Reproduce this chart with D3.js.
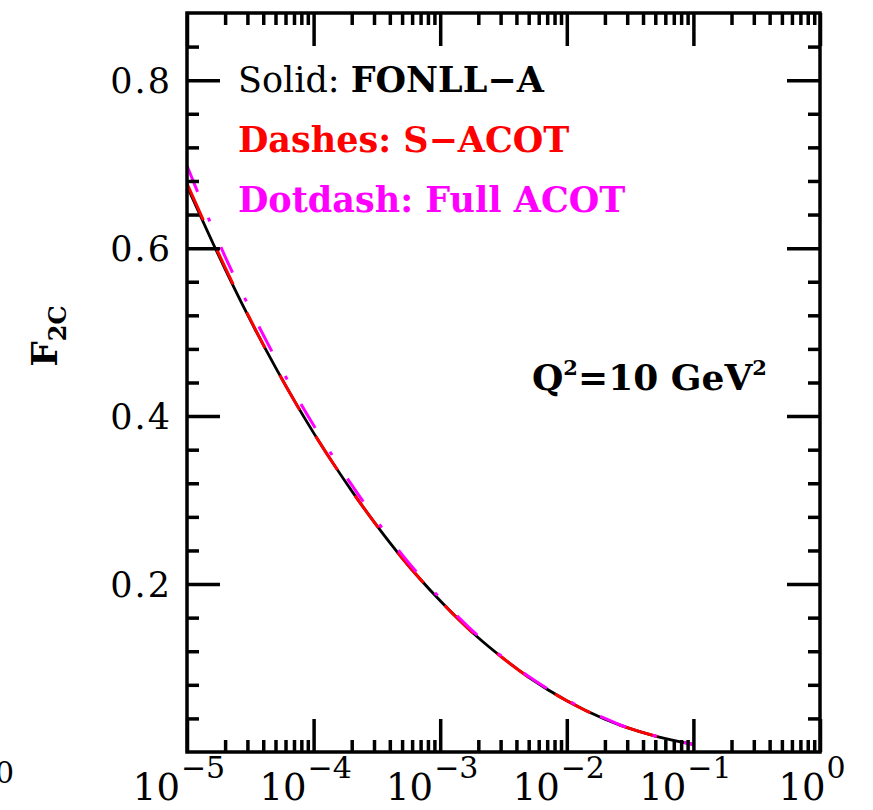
<!DOCTYPE html>
<meta charset="utf-8">
<style>
body { margin: 0; background: #fff; }
svg { display: block; }
text { font-family: "DejaVu Serif", serif; }
.tick line { stroke: #000; stroke-width: 3.5; }
</style>
<body>
<script src="https://cdn.jsdelivr.net/npm/d3@7"></script>
<script>

// x values (log axis) and F2c
var xs = [1e-5, 2e-5, 3e-5, 5e-5, 1e-4, 2e-4, 3e-4, 5e-4, 1e-3, 2e-3, 3e-3, 5e-3, 1e-2, 2e-2, 3e-2, 5e-2, 1e-1];
var fonll = [0.674, 0.575, 0.521, 0.458, 0.380, 0.311, 0.274, 0.231, 0.180, 0.136, 0.114, 0.089, 0.061, 0.039, 0.029, 0.019, 0.009];
var sacotX = [1e-5, 2e-5, 3e-5, 5e-5, 1e-4, 2e-4, 3e-4, 5e-4, 1e-3, 2e-3, 3e-3, 5e-3, 1e-2, 2e-2, 3e-2, 5e-2, 8e-2];
var sacot = [0.677, 0.577, 0.522, 0.458, 0.380, 0.311, 0.274, 0.231, 0.180, 0.136, 0.114, 0.089, 0.061, 0.039, 0.029, 0.019, 0.012];
var fullacot = [0.698, 0.590, 0.534, 0.469, 0.389, 0.318, 0.280, 0.235, 0.183, 0.138, 0.115, 0.090, 0.062, 0.040, 0.029, 0.019, 0.009];

var xMajor = [1e-5, 1e-4, 1e-3, 1e-2, 1e-1, 1];
var xExp = ["\u22125", "\u22124", "\u22123", "\u22122", "\u22121", "0"];
var yMajor = [0.2, 0.4, 0.6, 0.8];
var yLabels = ["0.2", "0.4", "0.6", "0.8"];

var W = 873, H = 810;
var m = {left: 187, top: 13, right: 53, bottom: 58};
var w = W - m.left - m.right, h = H - m.top - m.bottom;

var x = d3.scaleLog().domain([1e-5, 1]).range([0, w]);
var y = d3.scaleLinear().domain([0, 0.88]).range([h, 0]);

var xMinor = [];
xMajor.slice(0, -1).forEach(function(d) {
  for (var k = 2; k <= 9; k++) xMinor.push(d * k);
});
var yMinor = d3.range(0.04, 0.88, 0.04).filter(function(v) {
  return yMajor.every(function(t) { return Math.abs(t - v) > 1e-6; });
});

var svg = d3.select("body").append("svg")
    .attr("width", W)
    .attr("height", H);

// cut-off label from the neighbouring panel
svg.append("text")
    .attr("x", -5).attr("y", 783)
    .attr("font-size", 30)
    .text("0");

var g = svg.append("g")
    .attr("transform", "translate(" + m.left + "," + m.top + ")");

g.append("clipPath").attr("id", "clip")
  .append("rect").attr("width", w).attr("height", h);

// curves
var line = d3.line()
    .x(function(d) { return x(d[0]); })
    .y(function(d) { return y(d[1]); })
    .curve(d3.curveMonotoneX);

var plot = g.append("g").attr("clip-path", "url(#clip)");

plot.append("path")
    .attr("d", line(d3.zip(xs, fonll)))
    .attr("fill", "none").attr("stroke", "#000").attr("stroke-width", 2.8);

plot.append("path")
    .attr("d", line(d3.zip(sacotX, sacot)))
    .attr("fill", "none").attr("stroke", "#ff0000").attr("stroke-width", 3)
    .attr("stroke-dasharray", "40,31");

plot.append("path")
    .attr("d", line(d3.zip(xs, fullacot)))
    .attr("fill", "none").attr("stroke", "#ff00ff").attr("stroke-width", 3)
    .attr("stroke-dasharray", "28,28,4,28");

// ticks on all four sides, pointing inward
function ticks(axis, vals, size, tr) {
  var a = g.append("g").attr("transform", tr)
      .call(axis.tickValues(vals).tickSize(-size).tickFormat(""));
  a.select(".domain").remove();
}
ticks(d3.axisBottom(x), xMajor, 33, "translate(0," + h + ")");
ticks(d3.axisBottom(x), xMinor, 12, "translate(0," + h + ")");
ticks(d3.axisTop(x), xMajor, 33, null);
ticks(d3.axisTop(x), xMinor, 12, null);
ticks(d3.axisLeft(y), yMajor, 33, null);
ticks(d3.axisLeft(y), yMinor, 12, null);
ticks(d3.axisRight(y), yMajor, 33, "translate(" + w + ",0)");
ticks(d3.axisRight(y), yMinor, 12, "translate(" + w + ",0)");

g.append("rect")
    .attr("width", w).attr("height", h)
    .attr("fill", "none").attr("stroke", "#000").attr("stroke-width", 3.5);

// y tick labels
g.selectAll("text.ylab")
    .data(yMajor)
  .enter().append("text")
    .attr("class", "ylab")
    .attr("x", -15)
    .attr("y", function(d) { return y(d); })
    .attr("dy", "0.36em")
    .attr("text-anchor", "end")
    .attr("font-size", 35)
    .attr("letter-spacing", 2)
    .text(function(d, i) { return yLabels[i]; });

// x tick labels 10^n
var xl = g.selectAll("text.xlab")
    .data(xMajor)
  .enter().append("text")
    .attr("class", "xlab")
    .attr("x", function(d) { return x(d) - 8; })
    .attr("y", h + 48)
    .attr("text-anchor", "middle");
xl.append("tspan").attr("font-size", 37).text("10");
xl.append("tspan").attr("font-size", 30).attr("dy", -22).attr("dx", 1)
    .text(function(d, i) { return xExp[i]; });

// y axis title
var yt = svg.append("text")
    .attr("transform", "translate(57,336) rotate(-90)")
    .attr("text-anchor", "middle")
    .attr("font-weight", "bold");
yt.append("tspan").attr("font-size", 36).text("F");
yt.append("tspan").attr("font-size", 24).attr("dy", 9).text("2C");

// legend
var leg = g.append("g").attr("transform", "translate(51,0)");
var t1 = leg.append("text").attr("y", 79).attr("font-size", 35);
t1.append("tspan").text("Solid: ");
t1.append("tspan").attr("font-weight", "bold").text("FONLL\u2212A");
leg.append("text").attr("y", 139).attr("font-size", 35)
    .attr("font-weight", "bold").attr("fill", "#ff0000")
    .text("Dashes: S\u2212ACOT");
leg.append("text").attr("y", 199).attr("font-size", 35)
    .attr("font-weight", "bold").attr("fill", "#ff00ff")
    .text("Dotdash: Full ACOT");

// Q^2 annotation
var q = g.append("text")
    .attr("x", 345).attr("y", 377)
    .attr("font-size", 36).attr("font-weight", "bold");
q.append("tspan").text("Q");
q.append("tspan").attr("font-size", 21).attr("dy", -15).text("2");
q.append("tspan").attr("dy", 15).text("=10 GeV");
q.append("tspan").attr("font-size", 21).attr("dy", -15).text("2");

</script>
